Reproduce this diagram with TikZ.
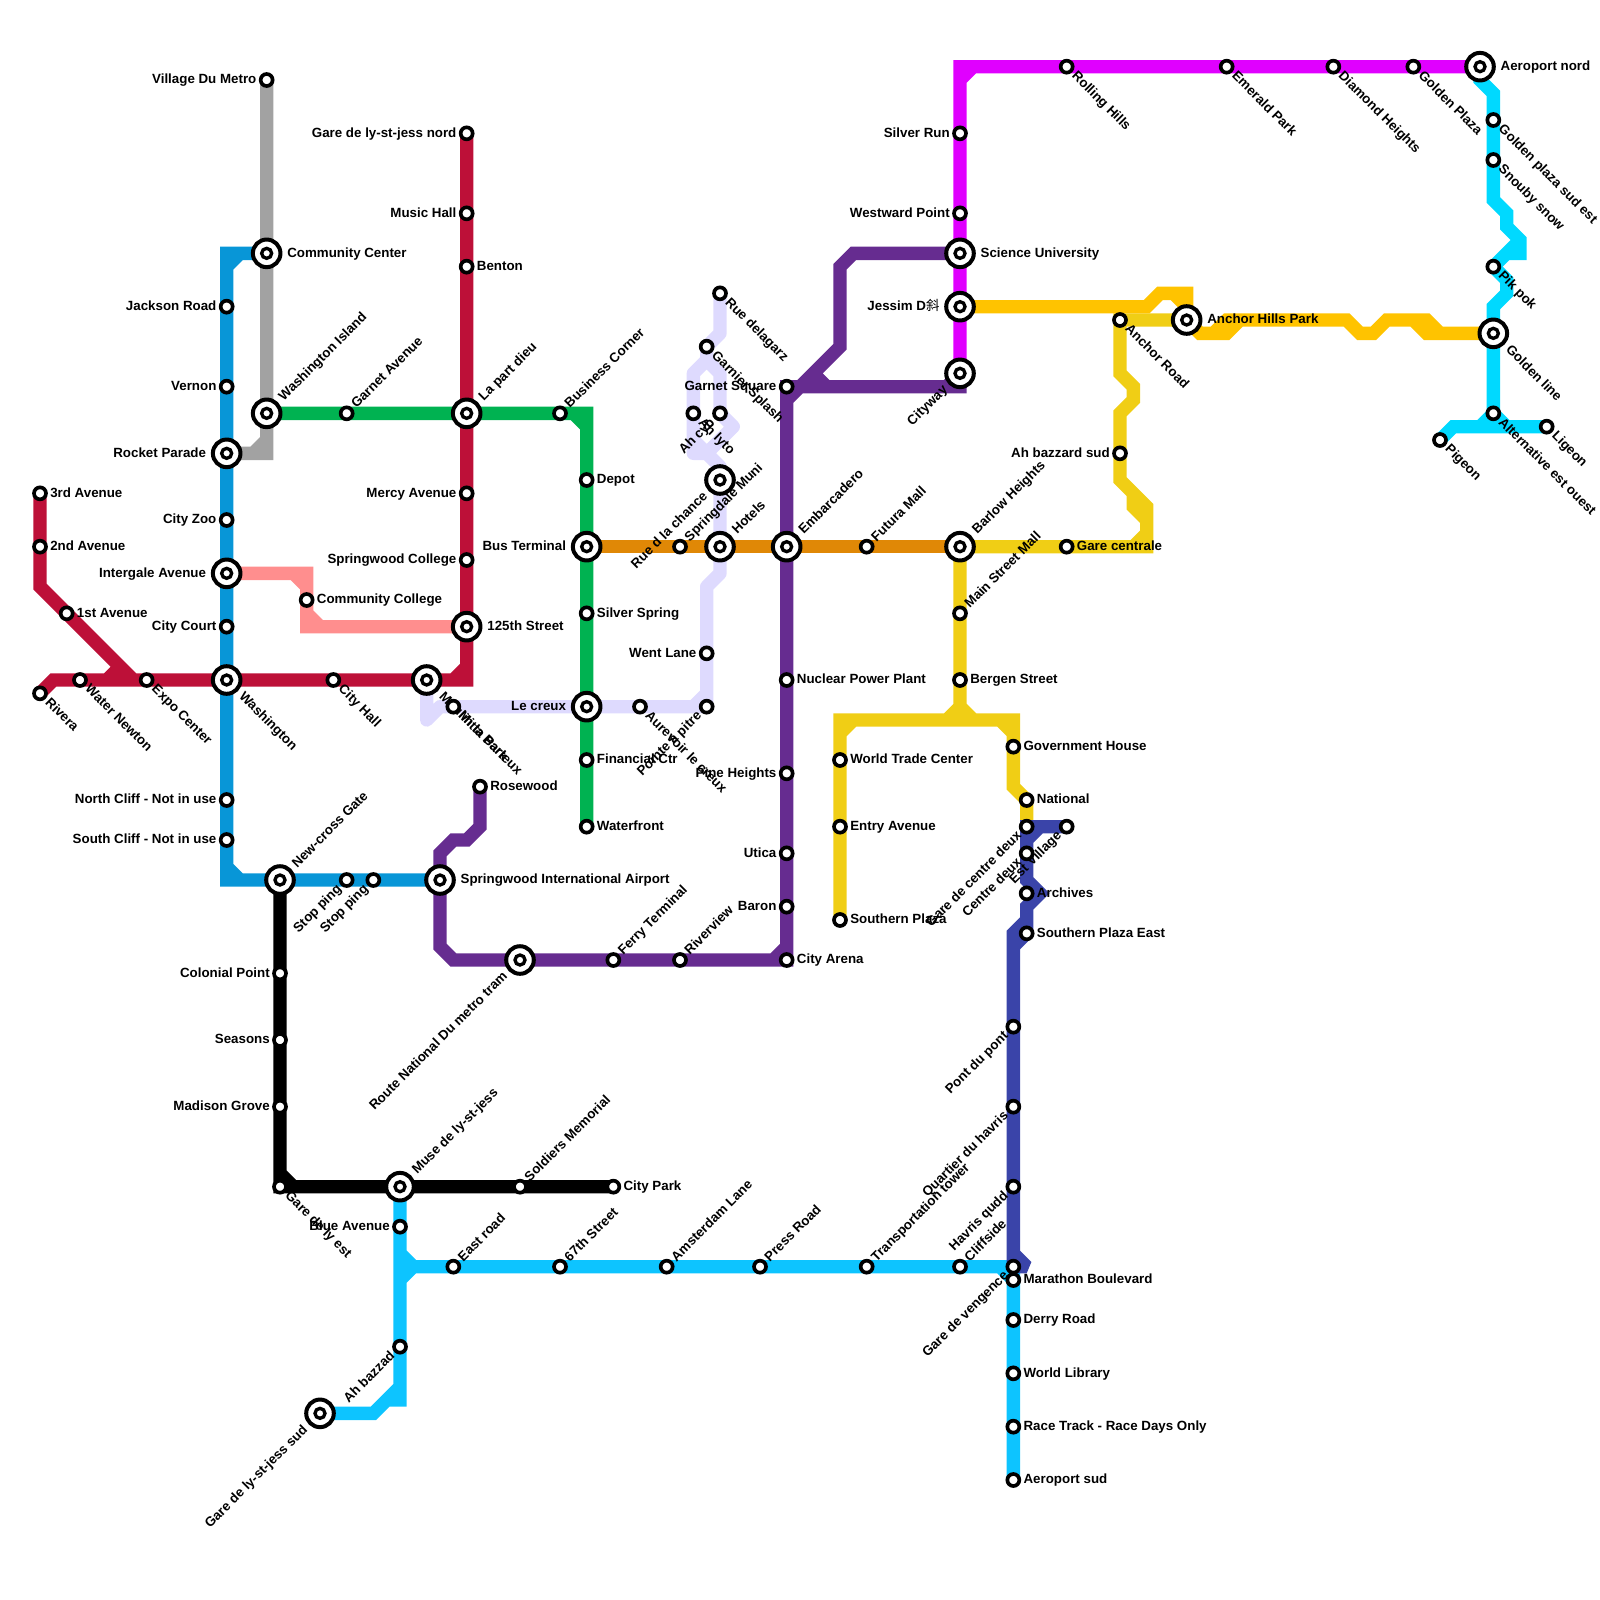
\documentclass[tikz,border=0pt]{standalone}
\usepackage{fontspec}
\setmainfont{Liberation Sans}
\newfontfamily\cjkfont{Noto Sans CJK SC}
\usetikzlibrary{backgrounds}
\definecolor{redline}{HTML}{BD1038}
\definecolor{blueline}{HTML}{0896D7}
\definecolor{greenline}{HTML}{00B251}
\definecolor{orangeline}{HTML}{E08806}
\definecolor{purpleline}{HTML}{662C90}
\definecolor{lavenderline}{HTML}{DEDAFE}
\definecolor{greyline}{HTML}{A2A2A2}
\definecolor{pinkline}{HTML}{FF8E8E}
\definecolor{yellowline}{HTML}{F0CE15}
\definecolor{goldline}{HTML}{FFC300}
\definecolor{magentaline}{HTML}{E000FF}
\definecolor{navyline}{HTML}{3A44A9}
\definecolor{skyline}{HTML}{0DC4FF}
\definecolor{cyanline}{HTML}{00D9FF}
\tikzset{
  metro/.style={line width=10pt, line join=miter, miter limit=2},
  stop/.style={circle, draw=black, fill=white, line width=2.75pt, minimum size=9pt, inner sep=0pt, outer sep=3.2pt},
  hub/.style={circle, draw=black, fill=white, line width=3pt, minimum size=20.7pt, inner sep=0pt, outer sep=5.15pt,
    path picture={\draw[line width=2.5pt] (path picture bounding box.center) circle (3.75pt);}},
  lbl/.style={font=\bfseries, inner sep=0pt, outer sep=0pt, text height=5.7pt, text depth=0pt},
  lE/.style={label={[lbl,anchor=west]0:#1}},
  lW/.style={label={[lbl,anchor=east]180:#1}},
  lNE/.style={label={[lbl,anchor=west,rotate=45]45:#1}},
  lSE/.style={label={[lbl,anchor=west,rotate=-45]-45:#1}},
  lSW/.style={label={[lbl,anchor=east,rotate=45]225:#1}},
}
\begin{document}
\begin{tikzpicture}[x=10pt,y=-10pt]
  \useasboundingbox (0,0) rectangle (120,120);

  % ligne rouge
  \node[stop,lE={3rd Avenue}] (third) at (3,37) {};
  \node[stop,lE={2nd Avenue}] (second) at (3,41) {};
  \node[stop,lE={1st Avenue}] (first) at (5,46) {};
  \node[stop,lSE={Rivera}] (rivera) at (3,52) {};
  \node[stop,lSE={Water Newton}] (waternewton) at (6,51) {};
  \node[stop,lSE={Expo Center}] (expo) at (11,51) {};
  \node[hub,lSE={Washington}] (washington) at (17,51) {};
  \node[stop,lSE={City Hall}] (cityhall) at (25,51) {};
  \node[hub,lSE={Moulin la Barteux}] (moulin) at (32,51) {};
  \node[hub,lE={125th Street}] (street) at (35,47) {};
  \node[stop,lW={Springwood College}] (springcollege) at (35,42) {};
  \node[stop,lW={Mercy Avenue}] (mercy) at (35,37) {};
  \node[hub,lNE={La part dieu}] (lapart) at (35,31) {};
  \node[stop,lE={Benton}] (benton) at (35,20) {};
  \node[stop,lW={Music Hall}] (musichall) at (35,16) {};
  \node[stop,lW={Gare de ly-st-jess nord}] (garenord) at (35,10) {};

  % ligne bleue
  \node[hub,lE={Community Center}] (community) at (20,19) {};
  \node[stop,lW={Jackson Road}] (jackson) at (17,23) {};
  \node[stop,lW={Vernon}] (vernon) at (17,29) {};
  \node[hub,lW={Rocket Parade}] (rocket) at (17,34) {};
  \node[stop,lW={City Zoo}] (cityzoo) at (17,39) {};
  \node[hub,lW={Intergale Avenue}] (intergale) at (17,43) {};
  \node[stop,lW={City Court}] (citycourt) at (17,47) {};
  \node[stop,lW={North Cliff - Not in use}] (northcliff) at (17,60) {};
  \node[stop,lW={South Cliff - Not in use}] (southcliff) at (17,63) {};
  \node[hub,lNE={New-cross Gate}] (newcross) at (21,66) {};
  \node[stop,lSW={Stop ping}] (stopa) at (26,66) {};
  \node[stop,lSW={Stop ping}] (stopb) at (28,66) {};
  \node[hub,lE={Springwood International Airport}] (airport) at (33,66) {};

  % lignes grise et rose
  \node[stop,lW={Village Du Metro}] (village) at (20,6) {};
  \node[hub,lNE={Washington Island}] (washisland) at (20,31) {};
  \node[stop,lE={Community College}] (commcollege) at (23,45) {};

  % ligne verte
  \node[stop,lNE={Garnet Avenue}] (garnetave) at (26,31) {};
  \node[stop,lNE={Business Corner}] (business) at (42,31) {};
  \node[stop,lE={Depot}] (depot) at (44,36) {};
  \node[hub,lW={Bus Terminal}] (busterminal) at (44,41) {};
  \node[stop,lE={Silver Spring}] (silverspring) at (44,46) {};
  \node[hub,lW={Le creux}] (lecreux) at (44,53) {};
  \node[stop,lE={Financial Ctr}] (financial) at (44,57) {};
  \node[stop,lE={Waterfront}] (waterfront) at (44,62) {};

  % ligne orange
  \node[stop,lNE={Springdale Muni}] (springdale) at (51,41) {};
  \node[hub,lNE={Hotels}] (hotels) at (54,41) {};
  \node[hub,lNE={Embarcadero}] (embarcadero) at (59,41) {};
  \node[stop,lNE={Futura Mall}] (futura) at (65,41) {};
  \node[hub,lNE={Barlow Heights}] (barlow) at (72,41) {};

  % ligne lavande
  \node[stop,lSE={Mitta Park}] (mitta) at (34,53) {};
  \node[stop,lSE={Aurevoir le creux}] (aurevoir) at (48,53) {};
  \node[stop,lSW={Pointe a pitre}] (pointe) at (53,53) {};
  \node[stop,lW={Went Lane}] (wentlane) at (53,49) {};
  \node[hub,lSW={Rue d la chance}] (ruechance) at (54,36) {};
  \node[stop,lSE={Ah lyto}] (ahlyto) at (52,31) {};
  \node[stop,lSW={Ah cyb}] (ahcyb) at (54,31) {};
  \node[stop,lSE={Garnier Splash}] (garnier) at (53,26) {};
  \node[stop,lSE={Rue delagarz}] (delagarz) at (54,22) {};

  % ligne violette
  \node[stop,lE={Rosewood}] (rosewood) at (36,59) {};
  \node[hub,lSW={Route National Du metro tram}] (routenational) at (39,72) {};
  \node[stop,lNE={Ferry Terminal}] (ferry) at (46,72) {};
  \node[stop,lNE={Riverview}] (riverview) at (51,72) {};
  \node[stop,lE={City Arena}] (cityarena) at (59,72) {};
  \node[stop,lW={Baron}] (baron) at (59,68) {};
  \node[stop,lW={Utica}] (utica) at (59,64) {};
  \node[stop,lW={Pine Heights}] (pine) at (59,58) {};
  \node[stop,lE={Nuclear Power Plant}] (nuclear) at (59,51) {};
  \node[stop,lW={Garnet Square}] (garnetsq) at (59,29) {};
  \node[hub,lSW={Cityway}] (cityway) at (72,28) {};

  % ligne magenta
  \node[hub,lE={Science University}] (science) at (72,19) {};
  \node[hub,lW={Jessim D{\cjkfont\mdseries 斜}}] (jessim) at (72,23) {};
  \node[stop,lW={Westward Point}] (westward) at (72,16) {};
  \node[stop,lW={Silver Run}] (silverrun) at (72,10) {};
  \node[stop,lSE={Rolling Hills}] (rolling) at (80,5) {};
  \node[stop,lSE={Emerald Park}] (emerald) at (92,5) {};
  \node[stop,lSE={Diamond Heights}] (diamond) at (100,5) {};
  \node[stop,lSE={Golden Plaza}] (goldenplaza) at (106,5) {};
  \node[hub,lE={Aeroport nord}] (aeronord) at (111,5) {};

  % lignes jaunes
  \node[stop,lSE={Anchor Road}] (anchorroad) at (84,24) {};
  \node[hub,lE={Anchor Hills Park}] (anchorhills) at (89,24) {};
  \node[stop,lW={Ah bazzard sud}] (bazzardsud) at (84,34) {};
  \node[stop,lE={Gare centrale}] (garecentrale) at (80,41) {};
  \node[stop,lNE={Main Street Mall}] (mainstreet) at (72,46) {};
  \node[stop,lE={Bergen Street}] (bergen) at (72,51) {};
  \node[stop,lE={World Trade Center}] (worldtrade) at (63,57) {};
  \node[stop,lE={Entry Avenue}] (entry) at (63,62) {};
  \node[stop,lE={Southern Plaza}] (southplaza) at (63,69) {};
  \node[stop,lE={Government House}] (government) at (76,56) {};
  \node[stop,lE={National}] (national) at (77,60) {};

  % ligne cyan
  \node[stop,lSE={Golden plaza sud est}] (goldensud) at (112,9) {};
  \node[stop,lSE={Snouby snow}] (snouby) at (112,12) {};
  \node[stop,lSE={Pik pok}] (pikpok) at (112,20) {};
  \node[hub,lSE={Golden line}] (goldenline) at (112,25) {};
  \node[stop,lSE={Alternative est ouest}] (alternative) at (112,31) {};
  \node[stop,lSE={Pigeon}] (pigeon) at (108,33) {};
  \node[stop,lSE={Ligeon}] (ligeon) at (116,32) {};

  % ligne marine
  \node[stop,lSW={Gare de centre deux}] (garecentre) at (77,62) {};
  \node[stop,lSW={Est Village}] (estvillage) at (80,62) {};
  \node[stop,lSW={Centre deux}] (centredeux) at (77,64) {};
  \node[stop,lE={Archives}] (archives) at (77,67) {};
  \node[stop,lE={Southern Plaza East}] (southeast) at (77,70) {};
  \node[stop,lSW={Pont du pont}] (pont) at (76,77) {};
  \node[stop,lSW={Quartier du havris}] (quartier) at (76,83) {};
  \node[stop,lSW={Havris qudd}] (havris) at (76,89) {};
  \node[stop,lSW={Gare de vengence}] (vengence) at (76,95) {};

  % ligne noire
  \node[stop,lW={Colonial Point}] (colonial) at (21,73) {};
  \node[stop,lW={Seasons}] (seasons) at (21,78) {};
  \node[stop,lW={Madison Grove}] (madison) at (21,83) {};
  \node[stop,lSE={Gare de ly est}] (garelyest) at (21,89) {};
  \node[hub,lNE={Muse de ly-st-jess}] (muse) at (30,89) {};
  \node[stop,lNE={Soldiers Memorial}] (soldiers) at (39,89) {};
  \node[stop,lE={City Park}] (citypark) at (46,89) {};

  % ligne bleu ciel
  \node[stop,lW={Blue Avenue}] (blueave) at (30,92) {};
  \node[stop,lSW={Ah bazzad}] (ahbazzad) at (30,101) {};
  \node[hub,lSW={Gare de ly-st-jess sud}] (garesud) at (24,106) {};
  \node[stop,lNE={East road}] (eastroad) at (34,95) {};
  \node[stop,lNE={67th Street}] (sixtyseven) at (42,95) {};
  \node[stop,lNE={Amsterdam Lane}] (amsterdam) at (50,95) {};
  \node[stop,lNE={Press Road}] (press) at (57,95) {};
  \node[stop,lNE={Transportation tower}] (transport) at (65,95) {};
  \node[stop,lNE={Cliffside}] (cliffside) at (72,95) {};
  \node[stop,lE={Marathon Boulevard}] (marathon) at (76,96) {};
  \node[stop,lE={Derry Road}] (derry) at (76,99) {};
  \node[stop,lE={World Library}] (worldlib) at (76,103) {};
  \node[stop,lE={Race Track - Race Days Only}] (racetrack) at (76,107) {};
  \node[stop,lE={Aeroport sud}] (aerosud) at (76,111) {};

  \begin{scope}[on background layer]
    % grise
    \draw[metro, greyline] (village.center) -- (community.center) -- (washisland.center) -- (20,34) -- (rocket.center) (20,33) -- (19,34);
    % bleue
    \draw[metro, blueline] (community.center) -- (17,19) -- (jackson.center) -- (vernon.center) -- (rocket.center) -- (cityzoo.center) -- (intergale.center) -- (citycourt.center) -- (washington.center) -- (northcliff.center) -- (southcliff.center) -- (17,66) -- (newcross.center) -- (stopa.center) (stopb.center) -- (airport.center) (stopa.center) -- (stopb.center) (18,19) -- (17,20) (17,65) -- (18,66);
    % rose
    \draw[metro, pinkline] (intergale.center) -- (23,43) -- (commcollege.center) -- (23,47) -- (street.center) (22,43) -- (23,44) (23,46) -- (24,47);
    % rouge
    \draw[metro, redline] (third.center) -- (second.center) -- (3,44) -- (first.center) -- (10,51) (rivera.center) -- (4,51) -- (waternewton.center) -- (expo.center) -- (washington.center) -- (cityhall.center) -- (moulin.center) -- (35,51) -- (street.center) -- (springcollege.center) -- (mercy.center) -- (lapart.center) -- (benton.center) -- (musichall.center) -- (garenord.center) (9,50) -- (8,51) (34,51) -- (35,50);
    % verte
    \draw[metro, greenline] (washisland.center) -- (garnetave.center) -- (lapart.center) -- (business.center) -- (44,31) -- (depot.center) -- (busterminal.center) -- (silverspring.center) -- (lecreux.center) -- (financial.center) -- (waterfront.center) (43,31) -- (44,32);
    % orange
    \draw[metro, orangeline] (busterminal.center) -- (springdale.center) -- (hotels.center) -- (embarcadero.center) -- (futura.center) -- (barlow.center);
    % lavande
    \draw[metro, lavenderline, line join=round] (moulin.center) -- (32,54) -- (33,53) -- (mitta.center) -- (lecreux.center) -- (aurevoir.center) -- (pointe.center) -- (wentlane.center) -- (53,44) -- (54,43) -- (hotels.center) -- (ruechance.center) -- (54,35) -- (53,34) -- (52,34) -- (ahlyto.center) -- (52,28) -- (53,27) -- (54,28) -- (ahcyb.center) -- (55,32) -- (53,34) (52,33) -- (53,34) (53,27) -- (garnier.center) -- (54,25) -- (delagarz.center) (52,53) -- (53,52);
    % violette
    \draw[metro, purpleline] (rosewood.center) -- (36,62) -- (35,63) -- (34,63) -- (33,64) -- (airport.center) -- (33,71) -- (34,72) -- (routenational.center) -- (ferry.center) -- (riverview.center) -- (cityarena.center) -- (baron.center) -- (utica.center) -- (pine.center) -- (nuclear.center) -- (embarcadero.center) -- (garnetsq.center) -- (72,29) -- (cityway.center) (58,72) -- (59,71) (59,30) -- (60,29) -- (63,26) -- (63,20) -- (64,19) -- (science.center) (61,28) -- (62,29) (71,29) -- (72,28);
    % magenta
    \draw[metro, magentaline] (cityway.center) -- (jessim.center) -- (science.center) -- (westward.center) -- (silverrun.center) -- (72,5) -- (rolling.center) -- (emerald.center) -- (diamond.center) -- (goldenplaza.center) -- (aeronord.center) (72,6) -- (73,5);
    % jaune
    \draw[metro, yellowline] (anchorhills.center) -- (anchorroad.center) -- (84,28) -- (85,29) -- (85,30) -- (84,31) -- (bazzardsud.center) -- (84,36) -- (86,38) -- (86,41) -- (garecentrale.center) -- (barlow.center) -- (mainstreet.center) -- (bergen.center) -- (72,54) (85,37) -- (85,38) -- (86,39) (86,40) -- (85,41) (71,54) -- (72,53) -- (73,54) (southplaza.center) -- (entry.center) -- (worldtrade.center) -- (63,54) -- (76,54) -- (government.center) -- (76,59) -- (national.center) -- (garecentre.center) (63,55) -- (64,54) (75,54) -- (76,55);
    % or
    \draw[metro, goldline] (jessim.center) -- (86,23) -- (87,22) -- (89,22) -- (anchorhills.center) (88,22) -- (89,23) (anchorhills.center) -- (90,25) -- (92,25) -- (93,24) -- (101,24) -- (102,25) -- (103,25) -- (104,24) -- (107,24) -- (108,25) -- (goldenline.center) (91,25) -- (92,24) -- (93,24) (106,24) -- (107,25) -- (108,25);
    % cyan
    \draw[metro, cyanline] (aeronord.center) -- (111,6) -- (112,7) -- (goldensud.center) -- (snouby.center) -- (112,15) -- (113,16) -- (113,17) -- (114,18) -- (114,19) -- (113,19) -- (pikpok.center) (pikpok.center) -- (113,21) -- (113,22) -- (112,23) -- (goldenline.center) -- (alternative.center) (114,18) -- (pikpok.center) (pigeon.center) -- (109,32) -- (ligeon.center) (111,32) -- (alternative.center) (alternative.center) -- (113,32);
    % bleu ciel
    \draw[metro, skyline] (muse.center) -- (blueave.center) -- (ahbazzad.center) -- (30,104) -- (28,106) -- (garesud.center) (29,105) -- (30,105) -- (30,104) (30,94) -- (31,95) -- (30,96) (30,95) -- (eastroad.center) -- (sixtyseven.center) -- (amsterdam.center) -- (press.center) -- (transport.center) -- (cliffside.center) -- (vengence.center) -- (marathon.center) -- (derry.center) -- (worldlib.center) -- (racetrack.center) -- (aerosud.center) (75,95) -- (76,96);
    % marine
    \draw[metro, navyline] (estvillage.center) -- (garecentre.center) -- (centredeux.center) -- (77,66) -- (78,67) -- (77,68) -- (southeast.center) -- (76,71) -- (pont.center) -- (quartier.center) -- (havris.center) -- (vengence.center) (78,62) -- (77,63) (77,69) -- (76,70) -- (76,71) (76,94) -- (77,95) -- (vengence.center);
    % noire
    \draw[metro, black] (newcross.center) -- (colonial.center) -- (seasons.center) -- (madison.center) -- (garelyest.center) -- (muse.center) -- (soldiers.center) -- (citypark.center) (21,88) -- (22,89);
  \end{scope}
\end{tikzpicture}
\end{document}
